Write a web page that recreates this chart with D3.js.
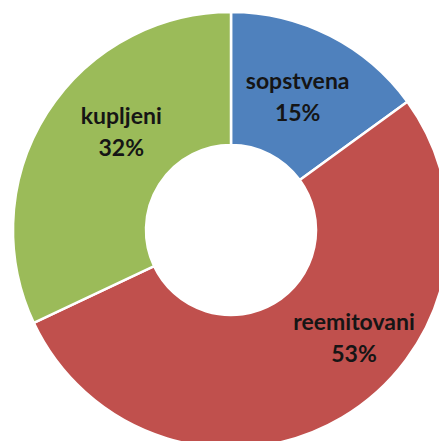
<!DOCTYPE html>
<html>
<head>
<meta charset="utf-8">
<script src="https://cdn.jsdelivr.net/npm/d3@7"></script>
<style>
  body { margin: 0; background: #fff; }
  svg { display: block; }
</style>
</head>
<body>
<div id="chart"></div>
<script>
// data
var categories = ["sopstvena", "reemitovani", "kupljeni"];
var shares = [15, 53, 32];
var colors = ["#4F81BD", "#C0504D", "#9BBB59"];

var width = 439, height = 441;
var cx = 231, cy = 230;
var outerR = 218, innerR = 85;

// where Excel dropped the labels (angle from top in degrees, distance from centre)
var labelSpot = [
  {angle: 28, r: 142},
  {angle: 133.3, r: 169},
  {angle: 309.4, r: 142}
];

var svg = d3.select("#chart")
  .append("svg")
    .attr("width", width)
    .attr("height", height)
  .append("g")
    .attr("transform", "translate(" + cx + "," + cy + ")");

var pie = d3.pie()
  .sort(null)
  .value(function(d) { return d; });

var arc = d3.arc()
  .innerRadius(innerR)
  .outerRadius(outerR);

var arcs = pie(shares);

svg.selectAll("path.slice")
  .data(arcs)
  .enter().append("path")
    .attr("class", "slice")
    .attr("d", arc)
    .attr("fill", function(d, i) { return colors[i]; })
    .attr("stroke", "#fff")
    .attr("stroke-width", 2.5)
    .attr("stroke-linejoin", "round");

// labels
var lbl = svg.selectAll("g.lbl")
  .data(arcs)
  .enter().append("g")
    .attr("class", "lbl")
    .attr("transform", function(d, i) {
      var a = labelSpot[i].angle * Math.PI / 180;
      var x = Math.sin(a) * labelSpot[i].r;
      var y = -Math.cos(a) * labelSpot[i].r;
      return "translate(" + x + "," + y + ")";
    });

lbl.append("text")
  .attr("y", -16)
  .attr("text-anchor", "middle")
  .style("font-family", "Lato, 'Open Sans', sans-serif")
  .style("font-weight", "bold")
  .style("font-size", "23px")
  .style("fill", "#151515")
  .text(function(d, i) { return categories[i]; });

lbl.append("text")
  .attr("y", 16)
  .attr("text-anchor", "middle")
  .style("font-family", "Lato, 'Open Sans', sans-serif")
  .style("font-weight", "bold")
  .style("font-size", "23px")
  .style("fill", "#151515")
  .text(function(d, i) { return shares[i] + "%"; });
</script>
</body>
</html>
